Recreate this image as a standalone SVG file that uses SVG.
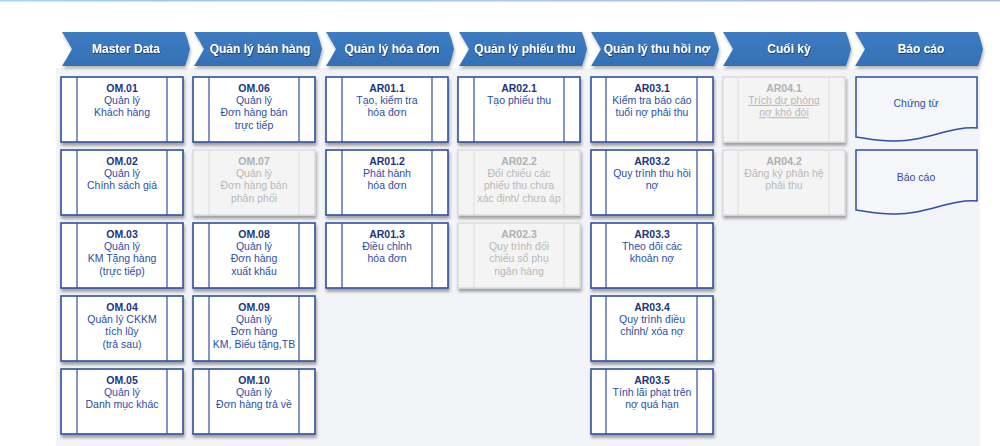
<svg xmlns="http://www.w3.org/2000/svg" width="1000" height="446" viewBox="0 0 1000 446">
<defs>
<linearGradient id="topline" x1="0" x2="1" y1="0" y2="0">
<stop offset="0" stop-color="#a8d8f4"/><stop offset="0.15" stop-color="#9ec4f0"/><stop offset="0.5" stop-color="#a9c8ec"/><stop offset="1" stop-color="#a8b8d8"/>
</linearGradient>
<linearGradient id="chev" x1="0" x2="0" y1="0" y2="1">
<stop offset="0" stop-color="#3d7cc2"/><stop offset="1" stop-color="#3570b4"/>
</linearGradient>
<filter id="sh" x="-10%" y="-10%" width="125%" height="135%">
<feDropShadow dx="1" dy="3" stdDeviation="1.4" flood-color="#000" flood-opacity="0.35"/>
</filter>
<filter id="hsh" x="-10%" y="-10%" width="125%" height="140%">
<feDropShadow dx="1" dy="2.5" stdDeviation="1.5" flood-color="#000" flood-opacity="0.3"/>
</filter>
<filter id="tsh" x="-10%" y="-30%" width="130%" height="180%">
<feDropShadow dx="0.5" dy="1" stdDeviation="0.6" flood-color="#000" flood-opacity="0.5"/>
</filter>
<path id="chevshape" d="M0,0 H123 Q126,8 128,17 Q126,26 123,34 H0 Q5,26 10,17 Q5,8 0,0 Z"/>
</defs>
<style>
text{font-family:"Liberation Sans",Arial,sans-serif;text-anchor:middle}
.ht{font-size:12px;font-weight:bold;fill:#fff}
.box{fill:#fff;stroke:#2f4f9f;stroke-width:1.6}
.inl{stroke:#2f4f9f;stroke-width:1.2}
.gbox{fill:#f4f4f4;stroke:#d9d9d9;stroke-width:1.4}
.ginl{stroke:#e0e0e0;stroke-width:1.2}
.code{font-size:10.5px;font-weight:bold;fill:#1d3580}
.txt{font-size:10.5px;fill:#2b4ea6}
.gcode{font-size:10.5px;font-weight:bold;fill:#b0b0b0}
.gtxt{font-size:10.5px;fill:#b8b8b8}
.doc{fill:#f5f6fa;stroke:#2f4f9f;stroke-width:1.5}
.dtxt{font-size:10.5px;fill:#2b4ea6}
</style>
<rect x="0" y="0" width="1000" height="446" fill="#fff"/>
<rect x="0" y="0" width="1000" height="1.5" fill="url(#topline)"/>
<rect x="56" y="68" width="924" height="378" fill="#f3f4f8"/>

<g id="headers">
<g id="h1" transform="translate(62,32)"><use href="#chevshape" fill="url(#chev)" filter="url(#hsh)"/><text class="ht" x="64" y="21" filter="url(#tsh)">Master Data</text></g>
<g id="h2" transform="translate(194,32)"><use href="#chevshape" fill="url(#chev)" filter="url(#hsh)"/><text class="ht" x="66" y="21" filter="url(#tsh)">Quản lý bán hàng</text></g>
<g id="h3" transform="translate(326,32)"><use href="#chevshape" fill="url(#chev)" filter="url(#hsh)"/><text class="ht" x="66" y="21" filter="url(#tsh)">Quản lý hóa đơn</text></g>
<g id="h4" transform="translate(459,32)"><use href="#chevshape" fill="url(#chev)" filter="url(#hsh)"/><text class="ht" x="66" y="21" filter="url(#tsh)">Quản lý phiếu thu</text></g>
<g id="h5" transform="translate(591,32)"><use href="#chevshape" fill="url(#chev)" filter="url(#hsh)"/><text class="ht" x="66" y="21" filter="url(#tsh)">Quản lý thu hồi nợ</text></g>
<g id="h6" transform="translate(723,32)"><use href="#chevshape" fill="url(#chev)" filter="url(#hsh)"/><text class="ht" x="66" y="21" filter="url(#tsh)">Cuối kỳ</text></g>
<g id="h7" transform="translate(855,32)"><use href="#chevshape" fill="url(#chev)" filter="url(#hsh)"/><text class="ht" x="66" y="21" filter="url(#tsh)">Báo cáo</text></g>
</g>

<g id="connectors"></g>

<!-- Column 1 -->
<g id="OM01" transform="translate(61,77)"><rect class="box" width="122" height="65" filter="url(#sh)"/><line class="inl" x1="16" y1="0" x2="16" y2="65"/><line class="inl" x1="106" y1="0" x2="106" y2="65"/>
<text class="code" x="61" y="14.6">OM.01</text><text class="txt" x="61" y="26.9">Quản lý</text><text class="txt" x="61" y="39.2">Khách hàng</text></g>
<g id="OM02" transform="translate(61,150)"><rect class="box" width="122" height="65" filter="url(#sh)"/><line class="inl" x1="16" y1="0" x2="16" y2="65"/><line class="inl" x1="106" y1="0" x2="106" y2="65"/>
<text class="code" x="61" y="14.6">OM.02</text><text class="txt" x="61" y="26.9">Quản lý</text><text class="txt" x="61" y="39.2">Chính sách giá</text></g>
<g id="OM03" transform="translate(61,223)"><rect class="box" width="122" height="65" filter="url(#sh)"/><line class="inl" x1="16" y1="0" x2="16" y2="65"/><line class="inl" x1="106" y1="0" x2="106" y2="65"/>
<text class="code" x="61" y="14.6">OM.03</text><text class="txt" x="61" y="26.9">Quản lý</text><text class="txt" x="61" y="39.2">KM Tặng hàng</text><text class="txt" x="61" y="51.5">(trực tiếp)</text></g>
<g id="OM04" transform="translate(61,296)"><rect class="box" width="122" height="65" filter="url(#sh)"/><line class="inl" x1="16" y1="0" x2="16" y2="65"/><line class="inl" x1="106" y1="0" x2="106" y2="65"/>
<text class="code" x="61" y="14.6">OM.04</text><text class="txt" x="61" y="26.9">Quản lý CKKM</text><text class="txt" x="61" y="39.2">tích lũy</text><text class="txt" x="61" y="51.5">(trả sau)</text></g>
<g id="OM05" transform="translate(61,369)"><rect class="box" width="122" height="65" filter="url(#sh)"/><line class="inl" x1="16" y1="0" x2="16" y2="65"/><line class="inl" x1="106" y1="0" x2="106" y2="65"/>
<text class="code" x="61" y="14.6">OM.05</text><text class="txt" x="61" y="26.9">Quản lý</text><text class="txt" x="61" y="39.2">Danh mục khác</text></g>

<!-- Column 2 -->
<g id="OM06" transform="translate(193,77)"><rect class="box" width="122" height="65" filter="url(#sh)"/><line class="inl" x1="16" y1="0" x2="16" y2="65"/><line class="inl" x1="106" y1="0" x2="106" y2="65"/>
<text class="code" x="61" y="14.6">OM.06</text><text class="txt" x="61" y="26.9">Quản lý</text><text class="txt" x="61" y="39.2">Đơn hàng bán</text><text class="txt" x="61" y="51.5">trực tiếp</text></g>
<g id="OM07" transform="translate(193,150)"><rect class="gbox" width="122" height="65" filter="url(#sh)"/><line class="ginl" x1="16" y1="0" x2="16" y2="65"/><line class="ginl" x1="106" y1="0" x2="106" y2="65"/>
<text class="gcode" x="61" y="14.6">OM.07</text><text class="gtxt" x="61" y="26.9">Quản lý</text><text class="gtxt" x="61" y="39.2">Đơn hàng bán</text><text class="gtxt" x="61" y="51.5">phân phối</text></g>
<g id="OM08" transform="translate(193,223)"><rect class="box" width="122" height="65" filter="url(#sh)"/><line class="inl" x1="16" y1="0" x2="16" y2="65"/><line class="inl" x1="106" y1="0" x2="106" y2="65"/>
<text class="code" x="61" y="14.6">OM.08</text><text class="txt" x="61" y="26.9">Quản lý</text><text class="txt" x="61" y="39.2">Đơn hàng</text><text class="txt" x="61" y="51.5">xuất khẩu</text></g>
<g id="OM09" transform="translate(193,296)"><rect class="box" width="122" height="65" filter="url(#sh)"/><line class="inl" x1="16" y1="0" x2="16" y2="65"/><line class="inl" x1="106" y1="0" x2="106" y2="65"/>
<text class="code" x="61" y="14.6">OM.09</text><text class="txt" x="61" y="26.9">Quản lý</text><text class="txt" x="61" y="39.2">Đơn hàng</text><text class="txt" x="61" y="51.5">KM, Biếu tặng,TB</text></g>
<g id="OM10" transform="translate(193,369)"><rect class="box" width="122" height="65" filter="url(#sh)"/><line class="inl" x1="16" y1="0" x2="16" y2="65"/><line class="inl" x1="106" y1="0" x2="106" y2="65"/>
<text class="code" x="61" y="14.6">OM.10</text><text class="txt" x="61" y="26.9">Quản lý</text><text class="txt" x="61" y="39.2">Đơn hàng trả về</text></g>

<!-- Column 3 -->
<g id="AR011" transform="translate(326,77)"><rect class="box" width="122" height="65" filter="url(#sh)"/><line class="inl" x1="16" y1="0" x2="16" y2="65"/><line class="inl" x1="106" y1="0" x2="106" y2="65"/>
<text class="code" x="61" y="14.6">AR01.1</text><text class="txt" x="61" y="26.9">Tạo, kiểm tra</text><text class="txt" x="61" y="39.2">hóa đơn</text></g>
<g id="AR012" transform="translate(326,150)"><rect class="box" width="122" height="65" filter="url(#sh)"/><line class="inl" x1="16" y1="0" x2="16" y2="65"/><line class="inl" x1="106" y1="0" x2="106" y2="65"/>
<text class="code" x="61" y="14.6">AR01.2</text><text class="txt" x="61" y="26.9">Phát hành</text><text class="txt" x="61" y="39.2">hóa đơn</text></g>
<g id="AR013" transform="translate(326,223)"><rect class="box" width="122" height="65" filter="url(#sh)"/><line class="inl" x1="16" y1="0" x2="16" y2="65"/><line class="inl" x1="106" y1="0" x2="106" y2="65"/>
<text class="code" x="61" y="14.6">AR01.3</text><text class="txt" x="61" y="26.9">Điều chỉnh</text><text class="txt" x="61" y="39.2">hóa đơn</text></g>

<!-- Column 4 -->
<g id="AR021" transform="translate(458,77)"><rect class="box" width="122" height="65" filter="url(#sh)"/><line class="inl" x1="16" y1="0" x2="16" y2="65"/><line class="inl" x1="106" y1="0" x2="106" y2="65"/>
<text class="code" x="61" y="14.6">AR02.1</text><text class="txt" x="61" y="26.9">Tạo phiếu thu</text></g>
<g id="AR022" transform="translate(458,150)"><rect class="gbox" width="122" height="65" filter="url(#sh)"/><line class="ginl" x1="16" y1="0" x2="16" y2="65"/><line class="ginl" x1="106" y1="0" x2="106" y2="65"/>
<text class="gcode" x="61" y="14.6">AR02.2</text><text class="gtxt" x="61" y="26.9">Đối chiếu các</text><text class="gtxt" x="61" y="39.2">phiếu thu chưa</text><text class="gtxt" x="61" y="51.5">xác định/ chưa áp</text></g>
<g id="AR023" transform="translate(458,223)"><rect class="gbox" width="122" height="65" filter="url(#sh)"/><line class="ginl" x1="16" y1="0" x2="16" y2="65"/><line class="ginl" x1="106" y1="0" x2="106" y2="65"/>
<text class="gcode" x="61" y="14.6">AR02.3</text><text class="gtxt" x="61" y="26.9">Quy trình đối</text><text class="gtxt" x="61" y="39.2">chiếu sổ phụ</text><text class="gtxt" x="61" y="51.5">ngân hàng</text></g>

<!-- Column 5 -->
<g id="AR031" transform="translate(591,77)"><rect class="box" width="122" height="65" filter="url(#sh)"/><line class="inl" x1="15" y1="0" x2="15" y2="65"/><line class="inl" x1="106" y1="0" x2="106" y2="65"/>
<text class="code" x="61" y="14.6">AR03.1</text><text class="txt" x="61" y="26.9">Kiểm tra báo cáo</text><text class="txt" x="61" y="39.2">tuổi nợ phải thu</text></g>
<g id="AR032" transform="translate(591,150)"><rect class="box" width="122" height="65" filter="url(#sh)"/><line class="inl" x1="15" y1="0" x2="15" y2="65"/><line class="inl" x1="106" y1="0" x2="106" y2="65"/>
<text class="code" x="61" y="14.6">AR03.2</text><text class="txt" x="61" y="26.9">Quy trình thu hồi</text><text class="txt" x="61" y="39.2">nợ</text></g>
<g id="AR033" transform="translate(591,223)"><rect class="box" width="122" height="65" filter="url(#sh)"/><line class="inl" x1="15" y1="0" x2="15" y2="65"/><line class="inl" x1="106" y1="0" x2="106" y2="65"/>
<text class="code" x="61" y="14.6">AR03.3</text><text class="txt" x="61" y="26.9">Theo dõi các</text><text class="txt" x="61" y="39.2">khoản nợ</text></g>
<g id="AR034" transform="translate(591,296)"><rect class="box" width="122" height="65" filter="url(#sh)"/><line class="inl" x1="15" y1="0" x2="15" y2="65"/><line class="inl" x1="106" y1="0" x2="106" y2="65"/>
<text class="code" x="61" y="14.6">AR03.4</text><text class="txt" x="61" y="26.9">Quy trình điều</text><text class="txt" x="61" y="39.2">chỉnh/ xóa nợ</text></g>
<g id="AR035" transform="translate(591,369)"><rect class="box" width="122" height="65" filter="url(#sh)"/><line class="inl" x1="15" y1="0" x2="15" y2="65"/><line class="inl" x1="106" y1="0" x2="106" y2="65"/>
<text class="code" x="61" y="14.6">AR03.5</text><text class="txt" x="61" y="26.9">Tính lãi phạt trên</text><text class="txt" x="61" y="39.2">nợ quá hạn</text></g>

<!-- Column 6 -->
<g id="AR041" transform="translate(723,77)"><rect class="gbox" width="122" height="65" filter="url(#sh)"/><line class="ginl" x1="15" y1="0" x2="15" y2="65"/><line class="ginl" x1="106" y1="0" x2="106" y2="65"/>
<text class="gcode" x="61" y="14.6">AR04.1</text><text class="gtxt" x="61" y="26.9" text-decoration="underline">Trích dự phòng</text><text class="gtxt" x="61" y="39.2" text-decoration="underline">nợ khó đòi</text></g>
<g id="AR042" transform="translate(723,150)"><rect class="gbox" width="122" height="65" filter="url(#sh)"/><line class="ginl" x1="15" y1="0" x2="15" y2="65"/><line class="ginl" x1="106" y1="0" x2="106" y2="65"/>
<text class="gcode" x="61" y="14.6">AR04.2</text><text class="gtxt" x="61" y="26.9">Đăng ký phân hệ</text><text class="gtxt" x="61" y="39.2">phải thu</text></g>

<!-- Column 7 -->
<g id="doc1"><path class="doc" d="M856,77 H977 V128 C950,126 925,142 893,141 C875,141 865,138 856,137 Z"/><text class="dtxt" x="916" y="107">Chứng từ</text></g>
<g id="doc2"><path class="doc" d="M856,150 H977 V201 C950,199 925,215 893,214 C875,214 865,211 856,210 Z"/><text class="dtxt" x="916" y="181">Báo cáo</text></g>
</svg>
